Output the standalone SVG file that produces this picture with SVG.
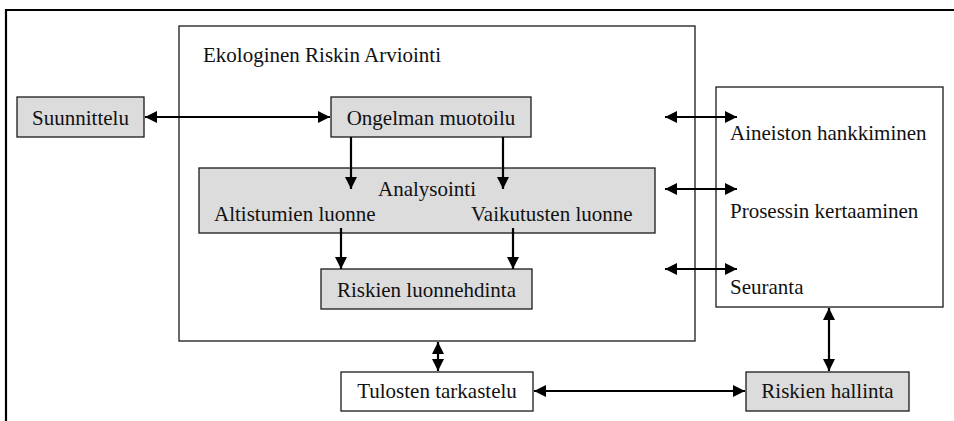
<svg xmlns="http://www.w3.org/2000/svg" width="954" height="421" viewBox="0 0 954 421">
<defs>
<style>
.box{stroke:#1a1a1a;stroke-width:1.3}
.g{fill:#dcdcdc}
.w{fill:#ffffff}
.t{font-family:"Liberation Serif","Times New Roman",serif;font-size:21px;fill:#111}
.c{stroke:#000;stroke-width:2.2;fill:none}
</style>
<marker id="ah" viewBox="0 0 12 12" refX="12" refY="6" markerWidth="12" markerHeight="12" markerUnits="userSpaceOnUse" orient="auto-start-reverse">
<path d="M0,0 L12,6 L0,12 z" fill="#000"/>
</marker>
</defs>
<rect width="954" height="421" fill="#fff"/>
<g id="frame">
<path d="M6,421 V10 H954" fill="none" stroke="#000" stroke-width="2.2"/>
</g>
<g id="era">
<rect class="box w" x="179" y="26" width="516" height="315"/>
<text class="t" x="203" y="62">Ekologinen Riskin Arviointi</text>
</g>
<g id="suunnittelu">
<rect class="box g" x="17" y="97" width="127" height="40"/>
<text class="t" x="80.5" y="125" text-anchor="middle">Suunnittelu</text>
</g>
<g id="ongelman">
<rect class="box g" x="331" y="97" width="200" height="40"/>
<text class="t" x="431" y="125" text-anchor="middle">Ongelman muotoilu</text>
</g>
<g id="analysointi">
<rect class="box g" x="199" y="168" width="456" height="65"/>
<text class="t" x="378" y="196">Analysointi</text>
<text class="t" x="214" y="221">Altistumien luonne</text>
<text class="t" x="471" y="221">Vaikutusten luonne</text>
</g>
<g id="riskien-luonnehdinta">
<rect class="box g" x="321" y="269" width="211" height="40"/>
<text class="t" x="426.5" y="297" text-anchor="middle">Riskien luonnehdinta</text>
</g>
<g id="tulosten">
<rect class="box w" x="341" y="372" width="192" height="39"/>
<text class="t" x="437" y="398" text-anchor="middle">Tulosten tarkastelu</text>
</g>
<g id="hallinta">
<rect class="box g" x="746" y="372" width="163" height="39"/>
<text class="t" x="827.5" y="398" text-anchor="middle">Riskien hallinta</text>
</g>
<g id="oikea">
<rect class="box w" x="716" y="87" width="227" height="220"/>
<text class="t" x="730" y="140">Aineiston hankkiminen</text>
<text class="t" x="730" y="218">Prosessin kertaaminen</text>
<text class="t" x="730" y="294">Seuranta</text>
</g>
<g id="connectors">
<line class="c" x1="145" y1="117" x2="330" y2="117" marker-start="url(#ah)" marker-end="url(#ah)"/>
<line class="c" x1="351" y1="137" x2="351" y2="189" marker-end="url(#ah)"/>
<line class="c" x1="503" y1="137" x2="503" y2="189" marker-end="url(#ah)"/>
<line class="c" x1="341" y1="228" x2="341" y2="269" marker-end="url(#ah)"/>
<line class="c" x1="513" y1="228" x2="513" y2="269" marker-end="url(#ah)"/>
<line class="c" x1="665" y1="117" x2="737" y2="117" marker-start="url(#ah)" marker-end="url(#ah)"/>
<line class="c" x1="665" y1="189" x2="737" y2="189" marker-start="url(#ah)" marker-end="url(#ah)"/>
<line class="c" x1="665" y1="269" x2="737" y2="269" marker-start="url(#ah)" marker-end="url(#ah)"/>
<line class="c" x1="438" y1="342" x2="438" y2="371" marker-start="url(#ah)" marker-end="url(#ah)"/>
<line class="c" x1="534" y1="391" x2="745" y2="391" marker-start="url(#ah)" marker-end="url(#ah)"/>
<line class="c" x1="829" y1="308" x2="829" y2="371" marker-start="url(#ah)" marker-end="url(#ah)"/>
</g>
</svg>
